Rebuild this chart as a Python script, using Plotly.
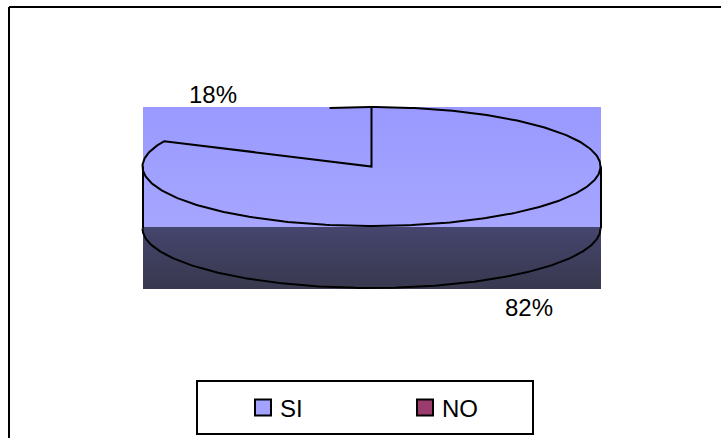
import numpy as np
import plotly.graph_objects as go

labels = ["SI", "NO"]
values = [82, 18]
pct_text = ["82%", "18%"]
swatch_colors = ["#a3a3ff", "#9c3c6c"]

W, H = 721, 438
CX, CY, RX, RY = 371.5, 166.5, 229, 59.5
DEPTH = 62
LEFT, RIGHT, TOP, MID, BOTTOM = 143, 601, 107, 227, 289
FONT = dict(family="Liberation Sans, Arial, sans-serif", size=24, color="#000000")

share_si = values[0] / sum(values)


def ell(t, dy=0):
    t = np.asarray(t)
    return CX + RX * np.sin(t), CY + dy - RY * np.cos(t)


fig = go.Figure()


def band(y0, y1, c0, c1):
    fig.add_trace(go.Scatter(
        x=[LEFT, RIGHT, RIGHT, LEFT, LEFT], y=[y0, y0, y1, y1, y0],
        mode="lines", line=dict(width=0), fill="toself",
        fillgradient=dict(type="vertical", colorscale=[[0, c0], [1, c1]]),
        hoverinfo="skip", showlegend=False))


band(TOP, MID, "#a6a6ff", "#9999ff")
band(MID, BOTTOM, "#38384e", "#45456e")


def line(x, y):
    fig.add_trace(go.Scatter(x=x, y=y, mode="lines",
                             line=dict(color="#000000", width=2),
                             hoverinfo="skip", showlegend=False))


# SI slice: clockwise from 12 o'clock
end = 2 * np.pi * share_si
t = np.linspace(0, end, 300)
ax, ay = ell(t)
line(np.r_[CX, ax, CX, CX], np.r_[CY, ay, CY, ay[0]])
# short visible start of the NO slice rim, just left of 12 o'clock
t3 = np.linspace(2 * np.pi - 0.184, 2 * np.pi, 30)
x3, y3 = ell(t3)
line(x3, y3)
# lower edge of the side wall
t4 = np.linspace(np.pi / 2, 3 * np.pi / 2, 200)
x4, y4 = ell(t4, DEPTH)
line(x4, np.minimum(y4, BOTTOM))
line([LEFT, LEFT], [CY, CY + DEPTH])
line([RIGHT, RIGHT], [CY, CY + DEPTH])

# legend box + swatches
LEG = dict(x0=197, x1=533, y0=381, y1=434)
swatch_x = [263, 425]
text_x = [278, 440]
fig.add_trace(go.Scatter(
    x=swatch_x, y=[407.5, 407.5], mode="markers",
    marker=dict(symbol="square", size=16, color=swatch_colors,
                line=dict(color="#000000", width=2)),
    hoverinfo="skip", showlegend=False))

annotations = [
    dict(x=xx, y=408, text=lab, xanchor="left", yanchor="middle", showarrow=False, font=FONT)
    for xx, lab in zip(text_x, labels)
]
annotations += [
    dict(x=529, y=307, text=pct_text[0], xanchor="center", yanchor="middle", showarrow=False, font=FONT),
    dict(x=212.5, y=94, text=pct_text[1], xanchor="center", yanchor="middle", showarrow=False, font=FONT),
]

shapes = [
    dict(type="rect", **LEG, line=dict(color="#000000", width=2), fillcolor="rgba(0,0,0,0)"),
    dict(type="line", x0=9, x1=W + 5, y0=7, y1=7, line=dict(color="#000000", width=2)),
    dict(type="line", x0=9, x1=9, y0=7, y1=H + 5, line=dict(color="#000000", width=2)),
]

fig.update_layout(
    width=W, height=H, margin=dict(l=0, r=0, t=0, b=0),
    paper_bgcolor="#ffffff", plot_bgcolor="#ffffff", showlegend=False,
    xaxis=dict(range=[0, W], visible=False, fixedrange=True),
    yaxis=dict(range=[H, 0], visible=False, fixedrange=True),
    shapes=shapes, annotations=annotations,
)
fig.write_html("out.html", config=dict(displayModeBar=False),
               post_script="document.body.style.margin='0';document.body.style.overflow='hidden';")
